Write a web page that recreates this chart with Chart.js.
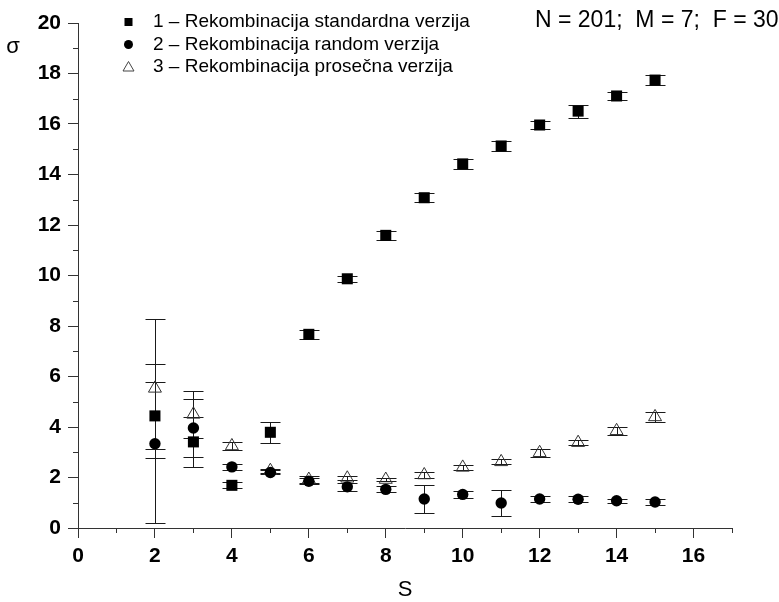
<!DOCTYPE html>
<html>
<head>
<meta charset="utf-8">
<script src="https://cdn.jsdelivr.net/npm/chart.js@4.4.1/dist/chart.umd.min.js"></script>
<style>
  body { margin: 0; background: #fff; }
  #wrap { width: 779px; height: 602px; }
</style>
</head>
<body>
<div id="wrap"><canvas id="sigmaChart" width="779" height="602"></canvas></div>
<script>
// S values (x axis)
const sValues = [2, 3, 4, 5, 6, 7, 8, 9, 10, 11, 12, 13, 14, 15];

// 1 - standardna verzija
const standardVals = [4.44, 3.41, 1.69, 3.79, 7.67, 9.87, 11.59, 13.08, 14.42, 15.13, 15.96, 16.51, 17.11, 17.74];
const standardErr = [1.33, 0.98, 0.12, 0.42, 0.17, 0.13, 0.17, 0.18, 0.20, 0.18, 0.17, 0.26, 0.14, 0.21];

// 2 - random verzija
const randomVals = [3.34, 3.96, 2.42, 2.20, 1.85, 1.63, 1.53, 1.15, 1.33, 0.99, 1.15, 1.14, 1.08, 1.03];
const randomErr = [3.14, 1.15, 0.12, 0.08, 0.12, 0.16, 0.12, 0.57, 0.15, 0.50, 0.12, 0.12, 0.08, 0.10];

// 3 - prosečna verzija
const averageVals = [5.53, 4.50, 3.25, 2.27, 1.92, 1.97, 1.92, 2.10, 2.40, 2.62, 2.98, 3.38, 3.85, 4.40];
const averageErr = [2.75, 0.94, 0.17, 0.08, 0.14, 0.08, 0.06, 0.13, 0.11, 0.10, 0.15, 0.10, 0.15, 0.19];

const seriesLabels = [
  "1 – Rekombinacija standardna verzija",
  "2 – Rekombinacija random verzija",
  "3 – Rekombinacija prosečna verzija"
];

const xTicks = [0, 2, 4, 6, 8, 10, 12, 14, 16];
const xMinorTicks = [1, 3, 5, 7, 9, 11, 13, 15, 17];
const yTicks = [0, 2, 4, 6, 8, 10, 12, 14, 16, 18, 20];
const yMinorTicks = [1, 3, 5, 7, 9, 11, 13, 15, 17, 19];

const paramText = "N = 201;  M = 7;  F = 30";

const FONT = "'Liberation Sans', Arial, Helvetica, sans-serif";
const TICK_FONT = "'Liberation Sans Narrow', 'Arial Narrow', 'Liberation Sans', Arial, sans-serif";

function toPoints(vals, errs) {
  return sValues.map((s, i) => ({ x: s, y: vals[i], err: errs[i] }));
}

// error bars under the markers
const errorBars = {
  id: "errorBars",
  beforeDatasetsDraw(chart) {
    const { ctx, scales: { x, y } } = chart;
    ctx.save();
    ctx.strokeStyle = "#1a1a1a";
    ctx.lineWidth = 1;
    chart.data.datasets.forEach((ds) => {
      ds.data.forEach((p) => {
        const px = Math.round(x.getPixelForValue(p.x)) + 0.5;
        const top = Math.round(y.getPixelForValue(p.y + p.err)) + 0.5;
        const bot = Math.round(y.getPixelForValue(p.y - p.err)) + 0.5;
        ctx.beginPath();
        ctx.moveTo(px, top);
        ctx.lineTo(px, bot);
        ctx.moveTo(px - 10, top);
        ctx.lineTo(px + 10, top);
        ctx.moveTo(px - 10, bot);
        ctx.lineTo(px + 10, bot);
        ctx.stroke();
      });
    });
    ctx.restore();
  }
};

// minor ticks, legend, annotation, y title
const decorations = {
  id: "decorations",
  afterDraw(chart) {
    const { ctx, scales: { x, y }, chartArea } = chart;
    ctx.save();
    ctx.strokeStyle = "#333";
    ctx.lineWidth = 1;
    ctx.beginPath();
    xMinorTicks.forEach((v) => {
      const px = Math.round(x.getPixelForValue(v)) + 0.5;
      ctx.moveTo(px, chartArea.bottom);
      ctx.lineTo(px, chartArea.bottom + 5);
    });
    yMinorTicks.forEach((v) => {
      const py = Math.round(y.getPixelForValue(v)) + 0.5;
      ctx.moveTo(chartArea.left, py);
      ctx.lineTo(chartArea.left - 5, py);
    });
    ctx.stroke();

    // legend
    const rows = [22, 44.5, 67];
    const mx = 128.5;
    ctx.fillStyle = "#000";
    ctx.fillRect(mx - 4, rows[0] - 4, 8, 8);
    ctx.beginPath();
    ctx.arc(mx, rows[1], 4.5, 0, Math.PI * 2);
    ctx.fill();
    ctx.beginPath();
    ctx.strokeStyle = "#444";
    ctx.moveTo(mx, rows[2] - 5.5);
    ctx.lineTo(mx + 5.5, rows[2] + 4);
    ctx.lineTo(mx - 5.5, rows[2] + 4);
    ctx.closePath();
    ctx.stroke();

    ctx.font = "19px " + FONT;
    ctx.textBaseline = "middle";
    ctx.textAlign = "left";
    ctx.fillStyle = "#000";
    seriesLabels.forEach((t, i) => ctx.fillText(t, 153, rows[i]));

    ctx.font = "23px " + FONT;
    ctx.fillText(paramText, 535, 21);

    ctx.font = "22px " + FONT;
    ctx.textAlign = "center";
    ctx.fillText("σ", 13, 47);
    ctx.restore();
  }
};

const data = {
  datasets: [
    {
      label: seriesLabels[0],
      data: toPoints(standardVals, standardErr),
      pointStyle: "rect",
      pointRadius: 7.8,
      backgroundColor: "#000",
      borderColor: "#000",
      borderWidth: 0
    },
    {
      label: seriesLabels[1],
      data: toPoints(randomVals, randomErr),
      pointStyle: "circle",
      pointRadius: 5.7,
      backgroundColor: "#000",
      borderColor: "#000",
      borderWidth: 0
    },
    {
      label: seriesLabels[2],
      data: toPoints(averageVals, averageErr),
      pointStyle: "triangle",
      pointRadius: 7.5,
      backgroundColor: "rgba(0,0,0,0)",
      borderColor: "#333",
      borderWidth: 1
    }
  ]
};

const config = {
  type: "scatter",
  data: data,
  options: {
    responsive: false,
    animation: false,
    layout: { padding: { top: 23, right: 47, left: 0, bottom: 0 } },
    plugins: {
      legend: { display: false },
      tooltip: { enabled: false }
    },
    scales: {
      x: {
        type: "linear",
        min: 0,
        max: 17,
        afterBuildTicks: (scale) => { scale.ticks = xTicks.map((v) => ({ value: v })); },
        afterFit: (scale) => { scale.height = 74; },
        grid: { drawOnChartArea: false, tickLength: 10, color: "#333" },
        border: { color: "#333", width: 1 },
        ticks: {
          color: "#000",
          padding: 6,
          maxRotation: 0,
          font: { family: TICK_FONT, size: 21, weight: "bold" }
        },
        title: {
          display: true,
          text: "S",
          color: "#000",
          padding: { top: 0, bottom: 1 },
          font: { family: FONT, size: 22, lineHeight: 1 }
        }
      },
      y: {
        type: "linear",
        min: 0,
        max: 20,
        afterBuildTicks: (scale) => { scale.ticks = yTicks.map((v) => ({ value: v })); },
        afterFit: (scale) => { scale.width = 78; },
        grid: { drawOnChartArea: false, tickLength: 10, color: "#333" },
        border: { color: "#333", width: 1 },
        ticks: {
          color: "#000",
          padding: 7,
          font: { family: TICK_FONT, size: 21, weight: "bold" }
        }
      }
    }
  },
  plugins: [errorBars, decorations]
};

new Chart(document.getElementById("sigmaChart").getContext("2d"), config);
</script>
</body>
</html>
